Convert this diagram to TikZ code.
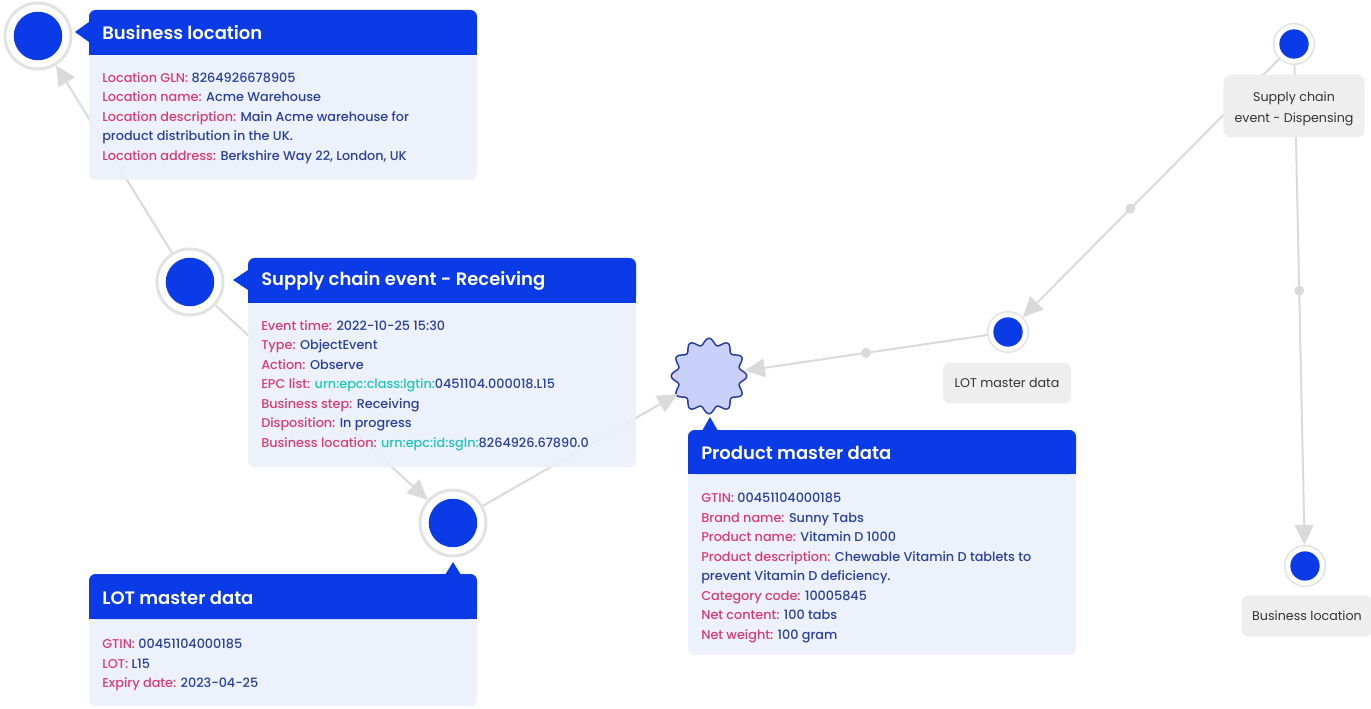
\documentclass[tikz,border=0pt]{standalone}
\usepackage{fontspec}
\setmainfont{Poppins}
\newfontfamily\titleface{Poppins SemiBold}
\newfontfamily\bodyface{Poppins Medium}
\usetikzlibrary{arrows.meta}

\definecolor{hubblue}{HTML}{0B3BE6}
\definecolor{cardbg}{HTML}{EAF0FB}
\definecolor{keyc}{HTML}{D93C74}
\definecolor{valc}{HTML}{2A409C}
\definecolor{urnc}{HTML}{1EC6BE}
\definecolor{edgec}{HTML}{DADADA}
\definecolor{ringc}{HTML}{E2E2E2}
\definecolor{tagbg}{HTML}{EEEEEE}
\definecolor{tagtxt}{HTML}{333333}
\definecolor{starfill}{HTML}{C9D1FA}
\definecolor{starline}{HTML}{25399E}

% key / value pair in a card
\newcommand{\kv}[2]{\textcolor{keyc}{#1}\textcolor{valc}{#2}}
\newcommand{\urn}[1]{\textcolor{urnc}{#1}}

\begin{document}
\begin{tikzpicture}[x=0.75pt, y=-0.75pt,
  bighub/.style={circle, fill=white, draw=ringc, line width=2.25pt, inner sep=0,
    minimum size=49.5pt,
    path picture={\fill[hubblue] (path picture bounding box.center) circle (18.2pt);}},
  smallhub/.style={circle, fill=white, draw=ringc, line width=1.1pt, inner sep=0,
    minimum size=30.5pt,
    path picture={\fill[hubblue] (path picture bounding box.center) circle (11pt);}},
  link/.style={draw=edgec, line width=1.5pt, -{Triangle[length=15pt, width=14pt]}},
  middot/.style={circle, fill=edgec, inner sep=0, minimum size=7.5pt},
  tag/.style={fill=tagbg, rounded corners=5pt, text=tagtxt, inner xsep=8pt,
    font=\fontsize{9.5}{15}\selectfont, minimum height=30.5pt, align=center},
  tagtext/.style={text=tagtxt, inner sep=0, align=center,
    font=\fontsize{9.5}{15}\selectfont},
  cardtitle/.style={anchor=west, inner sep=0, text=white,
    font=\fontsize{13.5}{15}\selectfont\titleface},
  cardtext/.style={anchor=north west, inner sep=0, align=left,
    font=\fontsize{9.6}{14.65}\selectfont\bodyface}
]
\useasboundingbox (0,0) rectangle (1371,709);

% hubs
\node[bighub] (blh) at (38,36) {};
\node[bighub] (rcvh) at (190,282) {};
\node[bighub] (loth) at (453,523) {};
\node[smallhub] (disph) at (1294,44) {};
\node[smallhub] (lotsh) at (1008,332) {};
\node[smallhub] (bssh) at (1305,566) {};

% product hub: a wavy seal
\node[circle, inner sep=0, minimum size=54pt] (prodh) at (709,376) {};
\filldraw[fill=starfill, draw=starline, line width=1.1pt]
  plot[domain=0:359, samples=360] ({709+(34.5+3.2*cos(12*\x))*cos(\x)}, {376+(34.5+3.2*cos(12*\x))*sin(\x)}) -- cycle;

% links
\draw[link] (rcvh) -- (blh);
\draw[link] (rcvh) -- (loth);
\draw[link] (loth) -- (prodh);
\draw[link] (lotsh) -- node[middot, pos=0.5] (d1) {} (prodh);
\draw[link] (disph) -- node[middot, pos=0.58] (d2) {} (lotsh);
\draw[link] (disph) -- node[middot, pos=0.47] (d3) {} (bssh);

% small labels
\node[tag, minimum width=106pt, minimum height=46.5pt] (displab) at (1294,106) {};
\node[tagtext] (displabtext) at (1294,109) {Supply chain\\[0.5pt]event - Dispensing};
\node[tag, minimum width=96pt] (lotslab) at (1007,383) {LOT master data};
\node[tag, minimum width=97pt] (bsslab) at (1307,616) {Business location};

% card pointers
\fill[hubblue] (89,22) -- (75,32) -- (89,42) -- cycle;
\fill[hubblue] (248,270) -- (233,280) -- (248,290) -- cycle;
\fill[hubblue] (445,575) -- (453,562) -- (461,575) -- cycle;
\fill[hubblue] (702,431) -- (710,417) -- (718,431) -- cycle;

% business location card
\fill[cardbg, fill opacity=0.9, rounded corners=5pt] (89,10) rectangle (477,180);
\node[inner sep=0, minimum width=291pt, minimum height=127.5pt, anchor=north west] (blcard) at (89,10) {};
\fill[hubblue, rounded corners=5pt] (89,10) rectangle (477,55);
\fill[hubblue] (89,47) rectangle (477,55);
\node[cardtitle] (bltitle) at (102,33) {Business location};
\node[cardtext] (bltext) at (102,72) {%
  \kv{Location GLN: }{8264926678905}\\
  \kv{Location name: }{Acme Warehouse}\\
  \kv{Location description: }{Main Acme warehouse for}\\
  \textcolor{valc}{product distribution in the UK.}\\
  \kv{Location address: }{Berkshire Way 22, London, UK}};

% receiving event card
\fill[cardbg, fill opacity=0.9, rounded corners=5pt] (248,258) rectangle (636,467);
\node[inner sep=0, minimum width=291pt, minimum height=156.75pt, anchor=north west] (rcvcard) at (248,258) {};
\fill[hubblue, rounded corners=5pt] (248,258) rectangle (636,303);
\fill[hubblue] (248,295) rectangle (636,303);
\node[cardtitle] (rcvtitle) at (261,281) {Supply chain event - Receiving};
\node[cardtext] (rcvtext) at (261,320) {%
  \kv{Event time: }{2022-10-25 15:30}\\
  \kv{Type: }{ObjectEvent}\\
  \kv{Action: }{Observe}\\
  \kv{EPC list: }{\urn{urn:epc:class:lgtin:}0451104.000018.L15}\\
  \kv{Business step: }{Receiving}\\
  \kv{Disposition: }{In progress}\\
  \kv{Business location: }{\urn{urn:epc:id:sgln:}8264926.67890.0}};

% lot card
\fill[cardbg, fill opacity=0.9, rounded corners=5pt] (89,574) rectangle (477,706);
\node[inner sep=0, minimum width=291pt, minimum height=99pt, anchor=north west] (lotcard) at (89,574) {};
\fill[hubblue, rounded corners=5pt] (89,574) rectangle (477,619);
\fill[hubblue] (89,611) rectangle (477,619);
\node[cardtitle] (lottitle) at (102,598) {LOT master data};
\node[cardtext] (lottext) at (102,639) {%
  \kv{GTIN: }{00451104000185}\\
  \kv{LOT: }{L15}\\
  \kv{Expiry date: }{2023-04-25}};

% product card
\fill[cardbg, fill opacity=0.9, rounded corners=5pt] (688,430) rectangle (1076,655);
\node[inner sep=0, minimum width=291pt, minimum height=168.75pt, anchor=north west] (prodcard) at (688,430) {};
\fill[hubblue, rounded corners=5pt] (688,430) rectangle (1076,474);
\fill[hubblue] (688,466) rectangle (1076,474);
\node[cardtitle] (prodtitle) at (701,453) {Product master data};
\node[cardtext] (prodtext) at (701,493) {%
  \kv{GTIN: }{00451104000185}\\
  \kv{Brand name: }{Sunny Tabs}\\
  \kv{Product name: }{Vitamin D 1000}\\
  \kv{Product description: }{Chewable Vitamin D tablets to}\\
  \textcolor{valc}{prevent Vitamin D deficiency.}\\
  \kv{Category code: }{10005845}\\
  \kv{Net content: }{100 tabs}\\
  \kv{Net weight: }{100 gram}};
\end{tikzpicture}
\end{document}
